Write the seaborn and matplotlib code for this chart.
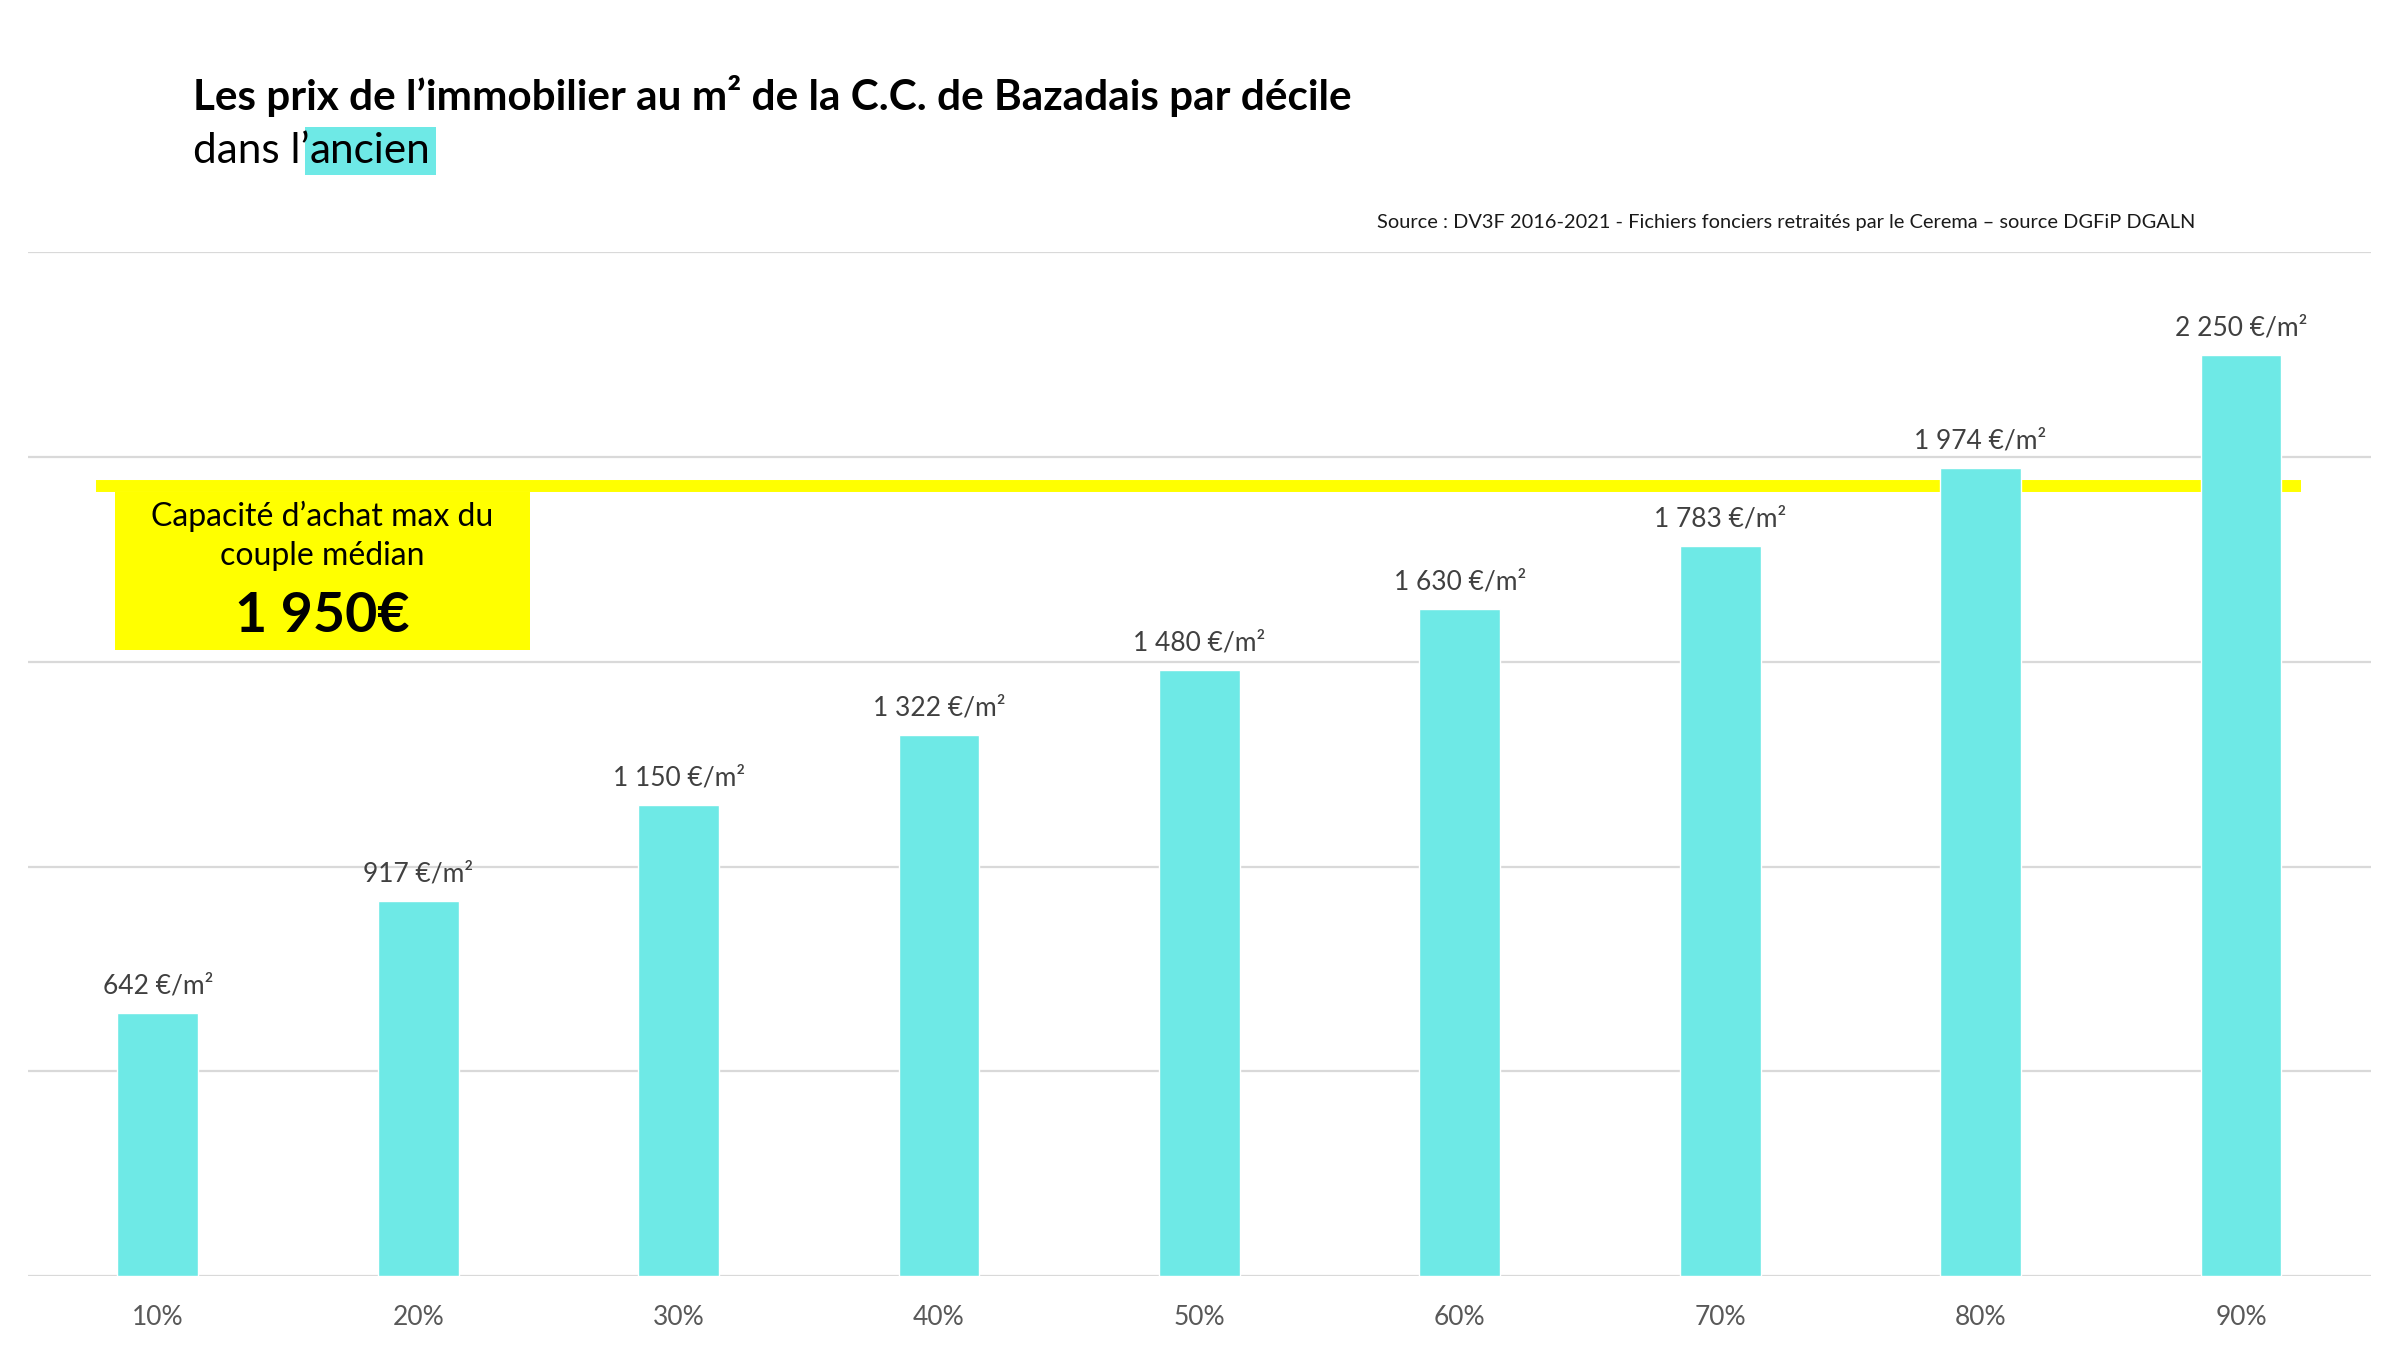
import seaborn as sns
import matplotlib.pyplot as plt
import pandas as pd
from matplotlib.patches import Rectangle

# données
deciles = ['10%', '20%', '30%', '40%', '50%', '60%', '70%', '80%', '90%']
prix = [642, 917, 1150, 1322, 1480, 1630, 1783, 1974, 2250]
capacite_ligne = 1930
capacite_texte = '1 950€'

BAR = '#6EE9E6'
YEL = '#FFFF00'


def fmt(v):
    s = f'{v:,}'.replace(',', ' ')
    return s + ' €/m²'


def drawImg(df):
    sns.set_style('white')
    plt.rcParams['font.family'] = ['Lato', 'DejaVu Sans']

    fig = plt.figure(figsize=(24, 13.5), dpi=100)
    ax = fig.add_axes([0.0115, 0.0548, 0.9765, 0.7582])

    sns.barplot(x='decile', y='prix', data=df, color=BAR, width=0.31,
                saturation=1, ax=ax, zorder=3)

    # ligne jaune + encadré
    ax.axhline(capacite_ligne, xmin=0.029, xmax=0.970, color=YEL, lw=8.6,
               zorder=2, solid_capstyle='butt')
    ax.add_patch(Rectangle((-0.164, 1530), 1.594, capacite_ligne - 1530 - 15,
                           color=YEL, zorder=2, lw=0))
    ax.text(0.63, 1808, 'Capacité d’achat max du\ncouple médian', ha='center',
            va='center', fontsize=23, color='black', linespacing=1.38, zorder=4)
    ax.text(0.63, 1612, capacite_texte, ha='center', va='center', fontsize=40,
            fontweight='bold', color='black', zorder=4)

    for i, v in enumerate(df['prix']):
        ax.text(i, v + 66, fmt(v), ha='center', va='center', fontsize=19,
                color='#404040', zorder=4)

    ax.set_ylim(0, 2500)
    ax.set_xlim(-0.5, 8.5)
    ax.set_yticks(range(0, 2501, 500))
    ax.set_yticklabels([])
    ax.yaxis.grid(True, color='#d9d9d9', lw=1.6, zorder=0)
    ax.set_axisbelow(True)
    for s in ax.spines.values():
        s.set_visible(False)
    ax.tick_params(axis='x', length=0, pad=21, labelsize=19, labelcolor='#595959')
    ax.tick_params(axis='y', length=0)
    ax.set_xlabel('')
    ax.set_ylabel('')

    # titres
    fig.text(0.0805, 0.929, 'Les prix de l’immobilier au m² de la C.C. de Bazadais par décile',
             fontsize=30.4, fontweight='bold', color='black', va='center')
    t1 = fig.text(0.0805, 0.888, 'dans l’', fontsize=30.4, color='black', va='center')
    ax.annotate('ancien', xy=(1, 0), xycoords=t1, va='bottom', ha='left',
                fontsize=30.4, color='black',
                bbox=dict(boxstyle='square,pad=0.12', fc=BAR, ec='none'))

    fig.text(0.9148, 0.835,
             'Source : DV3F 2016-2021 - Fichiers fonciers retraités par le Cerema – source DGFiP DGALN',
             fontsize=14.4, color='#1a1a1a', ha='right', va='center')

    fig.savefig('out.png', dpi=100, facecolor='white')


if __name__ == "__main__":
    df = pd.DataFrame({'decile': deciles, 'prix': prix})
    drawImg(df)
